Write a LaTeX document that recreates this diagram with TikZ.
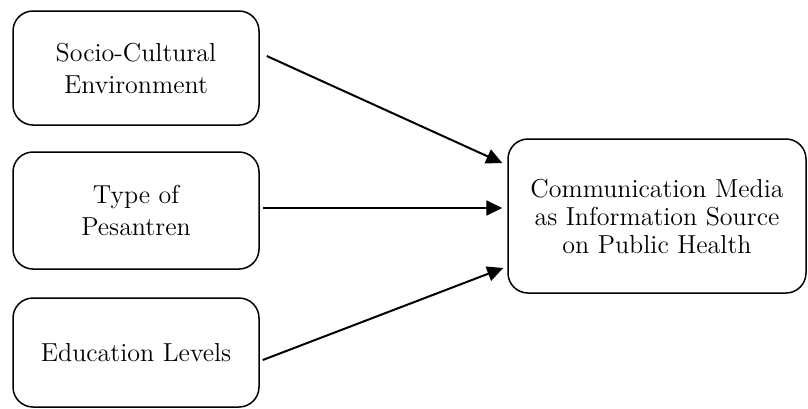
\documentclass[tikz,border=0pt]{standalone}
\usepackage{tikz}
\usetikzlibrary{arrows.meta}
\usetikzlibrary{positioning}
\tikzset{rbox/.style = {draw, rounded corners = 10pt, line width = 0.75pt, align = center,
    inner sep = 0, font = \fontsize{13}{16}\selectfont}}
\tikzset{arr/.style = {-{Triangle[length = 8pt, width = 7.5pt]}, line width = 1pt}}

\begin{document}
\begin{tikzpicture}[x = 0.5pt, y = -0.5pt]
          \useasboundingbox (0, 0) rectangle (808, 408);

          \node [rbox, minimum width = 123pt, minimum height = 57pt] (soc) at (136, 68)
            {Socio-Cultural\\Environment};
          \node [rbox, minimum width = 123pt, minimum height = 58.5pt] (pes) at (136, 210.5)
            {Type of\\Pesantren};
          \node [rbox, minimum width = 123pt, minimum height = 54.5pt] (edu) at (136, 352.5)
            {Education Levels};
          \node [rbox, minimum width = 149pt, minimum height = 77pt,
                 font = \fontsize{13}{14}\selectfont] (med) at (657, 216)
            {Communication Media\\as Information Source\\on Public Health};

          \draw [arr] ([shift = {(7, -12)}] soc.east) -- ([shift = {(-5, -53)}] med.west);
          \draw [arr] ([shift = {(3, -2.5)}] pes.east) -- ([shift = {(-5, -8)}] med.west);
          \draw [arr] ([shift = {(3, 7.5)}] edu.east) -- ([shift = {(-4, 52)}] med.west);
        \end{tikzpicture}
\end{document}
